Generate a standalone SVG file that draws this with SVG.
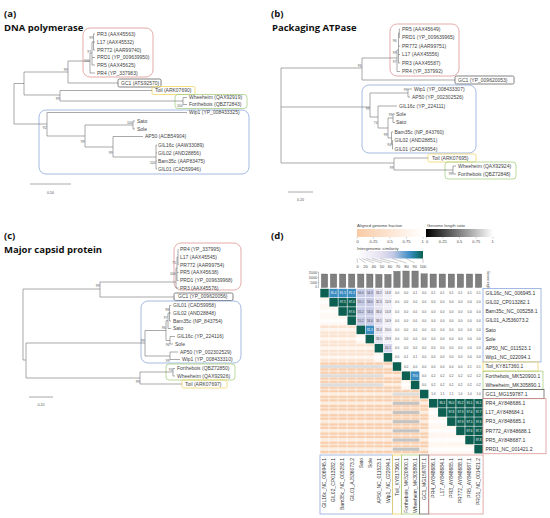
<svg xmlns="http://www.w3.org/2000/svg" width="550" height="518" viewBox="0 0 550 518">
<defs>
<style>
text{font-family:"Liberation Sans",Arial,sans-serif}
.hd{font-family:"Open Sans","Liberation Sans",sans-serif;font-weight:700;font-size:9.5px;fill:#111}
.tl{font-size:5px;fill:#444}
.bs{font-size:3.3px;fill:#555;text-anchor:end}
.br{fill:none;stroke:#707070;stroke-width:0.6}
.bx{fill:none;stroke-width:0.75}
.rd{stroke:#d8928e}.bl{stroke:#86a3db}.gn{stroke:#a3cd7c}.yl{stroke:#f0d35e}.gy{stroke:#5a5a5a}
.sc{font-size:3.6px;fill:#555;text-anchor:middle}
.vd{font-size:3px;fill:#444;text-anchor:middle}
.vw{font-size:3px;fill:#fff;text-anchor:middle}
.hl{font-size:5px;fill:#333}
.cl{font-size:5px;fill:#333;text-anchor:end}
.lg{font-size:4.2px;fill:#444}
.lt{font-size:4px;fill:#444;text-anchor:middle}
.ax{font-size:3px;fill:#444;text-anchor:end}
.T{fill:#0d5f52}.B{fill:#3a8cc1}.L{fill:#c9cce7}.P{fill:#e3e1f0}.P2{fill:#d9d8ed}.Q{fill:#f1eff7}
.bar{fill:#808080;stroke:#555;stroke-width:0.3}
.g1{fill:#c4c4c4}.g2{fill:#dedede}
</style>
<pattern id="lp" patternUnits="userSpaceOnUse" width="9.06" height="9.18"><rect width="9.06" height="9.18" fill="#fff"/><rect x="0.3" y="0.3" width="8.46" height="2.75" fill="#f8cfae"/><rect x="0.3" y="3.05" width="8.46" height="3.08" fill="#fdeee2"/><rect x="0.3" y="6.13" width="8.46" height="2.75" fill="#f8cfae"/></pattern>
<pattern id="ll" patternUnits="userSpaceOnUse" width="9.06" height="9.18"><rect width="9.06" height="9.18" fill="#fff"/><rect x="0.3" y="0.3" width="8.46" height="2.75" fill="#fbe3d0"/><rect x="0.3" y="3.05" width="8.46" height="3.08" fill="#fef6ef"/><rect x="0.3" y="6.13" width="8.46" height="2.75" fill="#fbe3d0"/></pattern>
<pattern id="lw" patternUnits="userSpaceOnUse" width="9.06" height="9.18"><rect width="9.06" height="9.18" fill="#fff"/><rect x="0.3" y="0.3" width="8.46" height="2.75" fill="#fff7f1"/><rect x="0.3" y="6.13" width="8.46" height="2.75" fill="#fff7f1"/></pattern>
<linearGradient id="gAF"><stop offset="0" stop-color="#f9cba6"/><stop offset="1" stop-color="#fff"/></linearGradient>
<linearGradient id="gLR"><stop offset="0" stop-color="#000"/><stop offset="1" stop-color="#fff"/></linearGradient>
<linearGradient id="gIS"><stop offset="0" stop-color="#fff"/><stop offset="0.35" stop-color="#e6e1f1"/><stop offset="0.55" stop-color="#c4c9e5"/><stop offset="0.8" stop-color="#3c8dc3"/><stop offset="0.9" stop-color="#1b7a8a"/><stop offset="1" stop-color="#0d5f52"/></linearGradient>
</defs>
<rect width="550" height="518" fill="#fff"/>

<!-- ===== Panel (a) ===== -->
<text class="hd" x="4" y="17">(a)</text>
<text class="hd" x="4" y="31">DNA polymerase</text>
<g id="a-boxes">
<rect class="bx rd" x="83" y="28" width="70" height="49" rx="7"/>
<rect class="bx gy" x="118" y="79" width="43" height="8" rx="1.5"/>
<rect class="bx yl" x="152" y="86.5" width="43" height="8" rx="1.5"/>
<rect class="bx gn" x="175" y="94.5" width="72" height="14" rx="3"/>
<rect class="bx bl" x="39" y="110" width="210" height="64" rx="7"/>
</g>
<g id="a-branches">
<path class="br" d="M14,83.5V124M14,83.5H24M24,72V95M24,72H68M68,61V83M68,61H90M68,83H118M90,53V73M90,73H95M90,53H92M92,42V65M92,65H95M92,57.5H95M92,42H93.5M93.5,34V50M93.5,34H95M93.5,42H95M93.5,50H95M24,95H60M60,90.5V101M60,90.5H152M60,101H183M183,97.5V104.5M183,97.5H187M183,104.5H187M14,124H47M47,112.5V136M47,112.5H187M47,136H85M85,125V147M85,125H133M133,121V129M133,121H135M133,129H135M85,147H113M113,136.5V157M113,136.5H143M113,157H156M156,145V169M156,145H157M156,153H157M156,161H157M156,169H157"/>
<path class="br" d="M30,184H71"/>
<text class="sc" x="50.5" y="194">0.50</text>
<text class="bs" x="93" y="39">99</text>
<text class="bs" x="91" y="52.5">97</text>
<text class="bs" x="89.5" y="61.5">100</text>
<text class="bs" x="67.5" y="70.5">99</text>
<text class="bs" x="59.5" y="99.5">99</text>
<text class="bs" x="182.5" y="107">100</text>
<text class="bs" x="46.5" y="128.5">92</text>
<text class="bs" x="132.5" y="124">100</text>
<text class="bs" x="84.5" y="143">99</text>
<text class="bs" x="112.5" y="154">99</text>
<text class="bs" x="155.5" y="164">100</text>
</g>
<g id="a-PR3"><text class="tl" x="97" y="35.7">PR3 (AAX45563)</text></g>
<g id="a-L17"><text class="tl" x="97" y="43.7">L17 (AAX45532)</text></g>
<g id="a-PR772"><text class="tl" x="97" y="51.7">PR772 (AAR99740)</text></g>
<g id="a-PRD1"><text class="tl" x="97" y="59.2">PRD1 (YP_009639950)</text></g>
<g id="a-PR5"><text class="tl" x="97" y="66.7">PR5 (AAX45625)</text></g>
<g id="a-PR4"><text class="tl" x="97" y="74.7">PR4 (YP_337983)</text></g>
<g id="a-GC1"><text class="tl" x="121" y="84.7">GC1 (ATS92570)</text></g>
<g id="a-Toil"><text class="tl" x="155" y="92.2">Toil (ARK07690)</text></g>
<g id="a-Wheeheim"><text class="tl" x="189" y="99.2">Wheeheim (QAX92919)</text></g>
<g id="a-Forthebois"><text class="tl" x="189" y="106.2">Forthebois (QBZ72843)</text></g>
<g id="a-Wip1"><text class="tl" x="189" y="114.2">Wip1 (YP_008433325)</text></g>
<g id="a-Sato"><text class="tl" x="137" y="122.7">Sato</text></g>
<g id="a-Sole"><text class="tl" x="137" y="130.7">Sole</text></g>
<g id="a-AP50"><text class="tl" x="145" y="138.2">AP50 (ACB54904)</text></g>
<g id="a-GIL16c"><text class="tl" x="158" y="146.7">GIL16c (AAW33089)</text></g>
<g id="a-GIL02"><text class="tl" x="158" y="154.7">GIL02 (AND28856)</text></g>
<g id="a-Bam35c"><text class="tl" x="158" y="162.7">Bam35c (AAP83475)</text></g>
<g id="a-GIL01"><text class="tl" x="158" y="170.7">GIL01 (CAD59946)</text></g>

<!-- ===== Panel (b) ===== -->
<text class="hd" x="271" y="17">(b)</text>
<text class="hd" x="272" y="31">Packaging ATPase</text>
<g id="b-boxes">
<rect class="bx rd" x="390" y="24" width="69" height="52" rx="7"/>
<rect class="bx gy" x="455" y="76" width="59" height="8" rx="1.5"/>
<rect class="bx bl" x="362" y="85" width="114" height="68" rx="7"/>
<rect class="bx yl" x="428" y="154" width="48" height="8" rx="1.5"/>
<rect class="bx gn" x="445" y="162" width="71" height="17" rx="3"/>
</g>
<g id="b-branches">
<path class="br" d="M281,68V163M281,68H362M362,58V80M362,58H397M362,80H455M397,50V71.5M397,71.5H400M397,50H398.5M398.5,33V63M398.5,63H400M398.5,54.5H400M398.5,46H400M398.5,33H399.3M399.3,29V37.5M399.3,29H400M399.3,37.5H400M281,107H370M370,93V117M370,93H408M408,89V97M408,89H412M408,97H410M370,117H378M378,106V128M378,106H397M378,128H388M388,118V138M388,118H393M393,114V122.5M393,114H395M393,122.5H395M388,138H391.5M391.5,132V144.5M391.5,132H393M391.5,144.5H392.5M392.5,140.5V149M392.5,140.5H393M392.5,149H393M281,163H394M394,158V170M394,158H428M394,170H453M453,166V174M453,166H456M453,174H456"/>
<path class="br" d="M288,192H313"/>
<text class="sc" x="300.5" y="201">0.20</text>
<text class="bs" x="396.5" y="42">96</text>
<text class="bs" x="396.5" y="53.5">99</text>
<text class="bs" x="396.5" y="62.5">97</text>
<text class="bs" x="361.5" y="67">96</text>
<text class="bs" x="407.5" y="91">99</text>
<text class="bs" x="369.5" y="109.5">99</text>
<text class="bs" x="377.5" y="124">74</text>
<text class="bs" x="392.5" y="116">99</text>
<text class="bs" x="387.5" y="136">99</text>
<text class="bs" x="391" y="146">94</text>
<text class="bs" x="393.5" y="169">99</text>
<text class="bs" x="452.5" y="175">99</text>
</g>
<g id="b-PR5"><text class="tl" x="402" y="30.7">PR5 (AAX45649)</text></g>
<g id="b-PRD1"><text class="tl" x="402" y="39.2">PRD1 (YP_009639965)</text></g>
<g id="b-PR772"><text class="tl" x="402" y="47.7">PR772 (AAR99751)</text></g>
<g id="b-L17"><text class="tl" x="402" y="56.2">L17 (AAX45556)</text></g>
<g id="b-PR3"><text class="tl" x="402" y="64.7">PR3 (AAX45587)</text></g>
<g id="b-PR4"><text class="tl" x="402" y="73.2">PR4 (YP_337992)</text></g>
<g id="b-GC1"><text class="tl" x="458" y="81.7">GC1 (YP_009620053)</text></g>
<g id="b-Wip1"><text class="tl" x="414" y="90.7">Wip1 (YP_008433307)</text></g>
<g id="b-AP50"><text class="tl" x="412" y="98.7">AP50 (YP_002302526)</text></g>
<g id="b-GIL16c"><text class="tl" x="399" y="107.7">GIL16c (YP_224111)</text></g>
<g id="b-Sole"><text class="tl" x="396" y="115.7">Sole</text></g>
<g id="b-Sato"><text class="tl" x="396" y="124.2">Sato</text></g>
<g id="b-Bam35c"><text class="tl" x="394.5" y="133.7">Bam35c (NP_843760)</text></g>
<g id="b-GIL02"><text class="tl" x="394.5" y="142.2">GIL02 (AND28851)</text></g>
<g id="b-GIL01"><text class="tl" x="394.5" y="150.7">GIL01 (CAD59954)</text></g>
<g id="b-Toil"><text class="tl" x="432" y="159.7">Toil (ARK07695)</text></g>
<g id="b-Wheeheim"><text class="tl" x="458" y="167.7">Wheeheim (QAX92924)</text></g>
<g id="b-Forthebois"><text class="tl" x="458" y="175.7">Forthebois (QBZ72848)</text></g>

<!-- ===== Panel (c) ===== -->
<text class="hd" x="4" y="238.5">(c)</text>
<text class="hd" x="4" y="252.5">Major capsid protein</text>
<g id="c-boxes">
<rect class="bx rd" x="174" y="243" width="67" height="47" rx="7"/>
<rect class="bx gy" x="174" y="293" width="59" height="7.5" rx="1.5"/>
<rect class="bx bl" x="141" y="301" width="100" height="62" rx="7"/>
<rect class="bx gn" x="166" y="364" width="69" height="16" rx="3"/>
<rect class="bx yl" x="182" y="380" width="45" height="8" rx="1.5"/>
</g>
<g id="c-branches">
<path class="br" d="M23,289V360M23,289H100M100,282V297M100,282H176M100,297H174M176,268V288M176,288H178.5M176,268H177M177,257V280.5M177,280.5H178.5M177,272.5H178.5M177,257H178M178,249.5V265M178,249.5H178.5M178,265H178.5M23,360H26M26,343V378M26,343H145M145,330.5V356M145,330.5H166M166,320.7V340.5M166,320.7H168M168,313V328.5M168,328.5H171M168,313H169.5M169.5,305.5V321M169.5,305.5H171M169.5,313H171M169.5,321H171M166,340.5H170M170,336.5V344M170,336.5H175M170,344H173M145,356H170M170,352V359.5M170,352H178M170,359.5H180M26,378H140M140,372V384M140,384H182M140,372H173M173,368.5V376M173,368.5H175M173,376H175"/>
<path class="br" d="M29,397H53"/>
<text class="sc" x="41" y="406">0.20</text>
<text class="bs" x="176" y="263.5">75</text>
<text class="bs" x="175.5" y="275">100</text>
<text class="bs" x="99.5" y="286.5">99</text>
<text class="bs" x="169" y="311">98</text>
<text class="bs" x="167.5" y="318.5">97</text>
<text class="bs" x="165.5" y="329">96</text>
<text class="bs" x="169.5" y="346">96</text>
<text class="bs" x="169.5" y="361.5">99</text>
<text class="bs" x="144.5" y="342">99</text>
<text class="bs" x="172.5" y="370.5">93</text>
<text class="bs" x="139.5" y="383">99</text>
</g>
<g id="c-PR4"><text class="tl" x="180" y="251.2">PR4 (YP_337995)</text></g>
<g id="c-L17"><text class="tl" x="180" y="258.7">L17 (AAX45545)</text></g>
<g id="c-PR772"><text class="tl" x="180" y="266.7">PR772 (AAR99754)</text></g>
<g id="c-PR5"><text class="tl" x="180" y="274.2">PR5 (AAX45638)</text></g>
<g id="c-PRD1"><text class="tl" x="180" y="282.2">PRD1 (YP_009639968)</text></g>
<g id="c-PR3"><text class="tl" x="180" y="289.7">PR3 (AAX45576)</text></g>
<g id="c-GC1"><text class="tl" x="178" y="298.4">GC1 (YP_009620056)</text></g>
<g id="c-GIL01"><text class="tl" x="173" y="307.2">GIL01 (CAD59958)</text></g>
<g id="c-GIL02"><text class="tl" x="173" y="314.7">GIL02 (AND28848)</text></g>
<g id="c-Bam35c"><text class="tl" x="173" y="322.7">Bam35c (NP_843754)</text></g>
<g id="c-Sato"><text class="tl" x="173" y="330.2">Sato</text></g>
<g id="c-GIL16c"><text class="tl" x="177" y="338.2">GIL16c (YP_224116)</text></g>
<g id="c-Sole"><text class="tl" x="175" y="345.7">Sole</text></g>
<g id="c-AP50"><text class="tl" x="180" y="353.7">AP50 (YP_002302529)</text></g>
<g id="c-Wip1"><text class="tl" x="182" y="361.2">Wip1 (YP_008433310)</text></g>
<g id="c-Forthebois"><text class="tl" x="177" y="370.2">Forthebois (QBZ72850)</text></g>
<g id="c-Wheeheim"><text class="tl" x="177" y="377.7">Wheeheim (QAX92926)</text></g>
<g id="c-Toil"><text class="tl" x="185" y="385.7">Toil (ARK07697)</text></g>

<!-- ===== Panel (d) ===== -->
<text class="hd" x="271" y="239">(d)</text>
<g id="d-legend">
<text class="lg" x="357" y="227">Aligned genome fraction</text>
<rect x="357" y="229" width="66" height="8" fill="url(#gAF)"/>
<path d="M357,237V238.5M373.5,237V238.5M390,237V238.5M406.5,237V238.5M423,237V238.5" stroke="#555" stroke-width="0.3"/>
<text class="lt" x="357.5" y="242.5">0</text><text class="lt" x="373.5" y="242.5">0.25</text><text class="lt" x="390" y="242.5">0.5</text><text class="lt" x="406.5" y="242.5">0.75</text><text class="lt" x="422.5" y="242.5">1</text>
<text class="lg" x="427" y="227">Genome length ratio</text>
<rect x="426" y="229" width="67" height="8" fill="url(#gLR)"/>
<path d="M426,237V238.5M442.75,237V238.5M459.5,237V238.5M476.25,237V238.5M493,237V238.5" stroke="#555" stroke-width="0.3"/>
<text class="lt" x="427" y="242.5">0</text><text class="lt" x="442.75" y="242.5">0.25</text><text class="lt" x="459.5" y="242.5">0.5</text><text class="lt" x="476.25" y="242.5">0.75</text><text class="lt" x="492.5" y="242.5">1</text>
<text class="lg" x="357" y="249.5">Intergenomic similarity</text>
<rect x="357" y="251" width="66" height="7.5" fill="url(#gIS)"/>
<path d="M357,258.5L357.5,263M359,258.5L365.5,263M362,258.5L373.8,263M366,258.5L382,263M372,258.5L390,263M380,258.5L398,263M392,258.5L406.5,263M406,258.5L414.8,263M423,258.5L423,263" stroke="#555" stroke-width="0.3" fill="none"/>
<text class="lt" x="357.5" y="267.5">0</text><text class="lt" x="365.5" y="267.5">20</text><text class="lt" x="373.8" y="267.5">40</text><text class="lt" x="382" y="267.5">50</text><text class="lt" x="390" y="267.5">60</text><text class="lt" x="398" y="267.5">70</text><text class="lt" x="406.5" y="267.5">80</text><text class="lt" x="414.8" y="267.5">90</text><text class="lt" x="423" y="267.5">100</text>
</g>
<g id="d-bars">
<path d="M318.5,271.5V287.5M317.6,272.5H318.5M317.6,277.5H318.5M317.6,282.5H318.5M317.6,287.5H318.5" stroke="#444" stroke-width="0.3" fill="none"/>
<text class="ax" x="317" y="273.5">15000</text><text class="ax" x="317" y="278.5">10000</text><text class="ax" x="317" y="283.5">5000</text><text class="ax" x="317" y="288.3">0</text>
<rect class="bar" x="321.3" y="274" width="6.4" height="13.5"/>
<rect class="bar" x="330.36" y="274" width="6.4" height="13.5"/>
<rect class="bar" x="339.42" y="274" width="6.4" height="13.5"/>
<rect class="bar" x="348.48" y="274" width="6.4" height="13.5"/>
<rect class="bar" x="357.54" y="274" width="6.4" height="13.5"/>
<rect class="bar" x="366.6" y="274" width="6.4" height="13.5"/>
<rect class="bar" x="375.66" y="274.3" width="6.4" height="13.2"/>
<rect class="bar" x="384.72" y="274.3" width="6.4" height="13.2"/>
<rect class="bar" x="393.78" y="271.3" width="6.4" height="16.2"/>
<rect class="bar" x="402.84" y="271" width="6.4" height="16.5"/>
<rect class="bar" x="411.9" y="271" width="6.4" height="16.5"/>
<rect class="bar" x="420.96" y="273.8" width="6.4" height="13.7"/>
<rect class="bar" x="430.02" y="274" width="6.4" height="13.5"/>
<rect class="bar" x="439.08" y="274" width="6.4" height="13.5"/>
<rect class="bar" x="448.14" y="274" width="6.4" height="13.5"/>
<rect class="bar" x="457.2" y="274" width="6.4" height="13.5"/>
<rect class="bar" x="466.26" y="274" width="6.4" height="13.5"/>
<rect class="bar" x="475.32" y="274" width="6.4" height="13.5"/>
<text transform="translate(486.5,271) rotate(90)" font-size="2.6" fill="#444">Genome length</text>
</g>
<g id="d-cells" transform="translate(320,288.5)">
<rect x="0" y="9.18" width="9.06" height="9.18" fill="url(#lp)"/>
<rect x="0" y="18.36" width="18.12" height="9.18" fill="url(#lp)"/>
<rect x="0" y="27.54" width="27.18" height="9.18" fill="url(#lp)"/>
<rect x="0" y="36.72" width="36.24" height="9.18" fill="url(#lp)"/>
<rect x="0" y="45.9" width="45.3" height="9.18" fill="url(#lp)"/>
<rect x="0" y="55.08" width="54.36" height="9.18" fill="url(#lp)"/>
<rect x="0" y="64.26" width="63.42" height="9.18" fill="url(#lp)"/>
<rect x="0" y="73.44" width="72.48" height="9.18" fill="url(#lp)"/>
<rect x="0" y="82.62" width="81.54" height="9.18" fill="url(#lp)"/>
<rect x="0" y="91.8" width="90.6" height="9.18" fill="url(#lp)"/>
<rect x="0" y="100.98" width="99.66" height="9.18" fill="url(#lp)"/>
<rect x="0" y="110.16" width="108.72" height="9.18" fill="url(#lp)"/>
<rect x="0" y="119.34" width="117.78" height="9.18" fill="url(#lp)"/>
<rect x="0" y="128.52" width="126.84" height="9.18" fill="url(#lp)"/>
<rect x="0" y="137.7" width="135.9" height="9.18" fill="url(#lp)"/>
<rect x="0" y="146.88" width="144.96" height="9.18" fill="url(#lp)"/>
<rect x="0" y="156.06" width="154.02" height="9.18" fill="url(#lp)"/>
<rect x="0" y="9.18" width="9.06" height="9.18" fill="url(#lw)"/>
<rect x="0" y="18.36" width="18.12" height="9.18" fill="url(#lw)"/>
<rect x="0" y="27.54" width="27.18" height="9.18" fill="url(#lw)"/>
<rect x="0" y="36.72" width="36.24" height="36.72" fill="url(#ll)"/>
<rect x="36.24" y="45.9" width="9.06" height="9.18" fill="url(#lw)"/>
<rect x="36.24" y="55.08" width="18.12" height="18.36" fill="url(#ll)"/>
<rect x="54.36" y="64.26" width="9.06" height="9.18" fill="url(#lw)"/>
<rect x="81.54" y="91.8" width="9.06" height="9.18" fill="url(#lw)"/>
<rect x="108.72" y="119.34" width="9.06" height="9.18" fill="url(#lw)"/>
<rect x="108.72" y="128.52" width="18.12" height="9.18" fill="url(#lw)"/>
<rect x="108.72" y="137.7" width="27.18" height="9.18" fill="url(#lw)"/>
<rect x="108.72" y="146.88" width="36.24" height="9.18" fill="url(#lw)"/>
<rect x="108.72" y="156.06" width="45.3" height="9.18" fill="url(#lw)"/>
<rect class="g2" x="0.3" y="76.54" width="62.82" height="3.08"/>
<rect class="g2" x="0.3" y="85.72" width="62.82" height="3.08"/>
<rect class="g2" x="0.3" y="94.9" width="62.82" height="3.08"/>
<rect class="g2" x="72.78" y="104.08" width="26.58" height="3.08"/>
<rect class="g1" x="72.78" y="113.26" width="26.58" height="3.08"/>
<rect class="g1" x="72.78" y="122.44" width="26.58" height="3.08"/>
<rect class="g1" x="72.78" y="131.62" width="26.58" height="3.08"/>
<rect class="g1" x="72.78" y="140.8" width="26.58" height="3.08"/>
<rect class="g1" x="72.78" y="149.98" width="26.58" height="3.08"/>
<rect class="g1" x="72.78" y="159.16" width="26.58" height="3.08"/>
<rect class="T" x="0.3" y="0.3" width="8.46" height="8.58"/>
<rect class="T" x="9.36" y="9.48" width="8.46" height="8.58"/>
<rect class="T" x="18.42" y="18.66" width="8.46" height="8.58"/>
<rect class="T" x="27.48" y="27.84" width="8.46" height="8.58"/>
<rect class="T" x="36.54" y="37.02" width="8.46" height="8.58"/>
<rect class="T" x="45.6" y="46.2" width="8.46" height="8.58"/>
<rect class="T" x="54.66" y="55.38" width="8.46" height="8.58"/>
<rect class="T" x="63.72" y="64.56" width="8.46" height="8.58"/>
<rect class="T" x="72.78" y="73.74" width="8.46" height="8.58"/>
<rect class="T" x="81.84" y="82.92" width="8.46" height="8.58"/>
<rect class="T" x="90.9" y="92.1" width="8.46" height="8.58"/>
<rect class="T" x="99.96" y="101.28" width="8.46" height="8.58"/>
<rect class="T" x="109.02" y="110.46" width="8.46" height="8.58"/>
<rect class="T" x="118.08" y="119.64" width="8.46" height="8.58"/>
<rect class="T" x="127.14" y="128.82" width="8.46" height="8.58"/>
<rect class="T" x="136.2" y="138" width="8.46" height="8.58"/>
<rect class="T" x="145.26" y="147.18" width="8.46" height="8.58"/>
<rect class="T" x="154.32" y="156.36" width="8.46" height="8.58"/>
<rect class="B" x="9.36" y="0.3" width="8.46" height="8.58"/>
<rect class="B" x="18.42" y="0.3" width="8.46" height="8.58"/>
<rect class="B" x="27.48" y="0.3" width="8.46" height="8.58"/>
<rect class="L" x="36.54" y="0.3" width="8.46" height="8.58"/>
<rect class="L" x="45.6" y="0.3" width="8.46" height="8.58"/>
<rect class="P" x="54.66" y="0.3" width="8.46" height="8.58"/>
<rect class="Q" x="63.72" y="0.3" width="8.46" height="8.58"/>
<rect class="T" x="18.42" y="9.48" width="8.46" height="8.58"/>
<rect class="T" x="27.48" y="9.48" width="8.46" height="8.58"/>
<rect class="L" x="36.54" y="9.48" width="8.46" height="8.58"/>
<rect class="L" x="45.6" y="9.48" width="8.46" height="8.58"/>
<rect class="P" x="54.66" y="9.48" width="8.46" height="8.58"/>
<rect class="Q" x="63.72" y="9.48" width="8.46" height="8.58"/>
<rect class="T" x="27.48" y="18.66" width="8.46" height="8.58"/>
<rect class="L" x="36.54" y="18.66" width="8.46" height="8.58"/>
<rect class="L" x="45.6" y="18.66" width="8.46" height="8.58"/>
<rect class="P" x="54.66" y="18.66" width="8.46" height="8.58"/>
<rect class="Q" x="63.72" y="18.66" width="8.46" height="8.58"/>
<rect class="L" x="36.54" y="27.84" width="8.46" height="8.58"/>
<rect class="L" x="45.6" y="27.84" width="8.46" height="8.58"/>
<rect class="P" x="54.66" y="27.84" width="8.46" height="8.58"/>
<rect class="Q" x="63.72" y="27.84" width="8.46" height="8.58"/>
<rect class="B" x="45.6" y="37.02" width="8.46" height="8.58"/>
<rect class="P" x="54.66" y="37.02" width="8.46" height="8.58"/>
<rect class="Q" x="63.72" y="37.02" width="8.46" height="8.58"/>
<rect class="P" x="54.66" y="46.2" width="8.46" height="8.58"/>
<rect class="Q" x="63.72" y="46.2" width="8.46" height="8.58"/>
<rect class="P2" x="63.72" y="55.38" width="8.46" height="8.58"/>
<rect class="B" x="90.9" y="82.92" width="8.46" height="8.58"/>
<rect class="T" x="118.08" y="110.46" width="8.46" height="8.58"/>
<rect class="T" x="127.14" y="110.46" width="8.46" height="8.58"/>
<rect class="T" x="136.2" y="110.46" width="8.46" height="8.58"/>
<rect class="T" x="145.26" y="110.46" width="8.46" height="8.58"/>
<rect class="T" x="154.32" y="110.46" width="8.46" height="8.58"/>
<rect class="T" x="127.14" y="119.64" width="8.46" height="8.58"/>
<rect class="T" x="136.2" y="119.64" width="8.46" height="8.58"/>
<rect class="T" x="145.26" y="119.64" width="8.46" height="8.58"/>
<rect class="T" x="154.32" y="119.64" width="8.46" height="8.58"/>
<rect class="T" x="136.2" y="128.82" width="8.46" height="8.58"/>
<rect class="T" x="145.26" y="128.82" width="8.46" height="8.58"/>
<rect class="T" x="154.32" y="128.82" width="8.46" height="8.58"/>
<rect class="T" x="145.26" y="138" width="8.46" height="8.58"/>
<rect class="T" x="154.32" y="138" width="8.46" height="8.58"/>
<rect class="T" x="154.32" y="147.18" width="8.46" height="8.58"/>
<text class="vw" y="5.65"><tspan x="13.59">81.4</tspan><tspan x="22.65">81.3</tspan><tspan x="31.71">81.3</tspan></text>
<text class="vd" y="5.65"><tspan x="40.77">56.6</tspan><tspan x="49.83">54.3</tspan><tspan x="58.89">33.2</tspan><tspan x="67.95">14.8</tspan><tspan x="77.01">0.0</tspan><tspan x="86.07">0.0</tspan><tspan x="95.13">0.1</tspan><tspan x="104.19">0.0</tspan><tspan x="113.25">0.1</tspan><tspan x="122.31">0.1</tspan><tspan x="131.37">0.1</tspan><tspan x="140.43">0.1</tspan><tspan x="149.49">0.1</tspan><tspan x="158.55">0.1</tspan></text>
<text class="vw" y="14.83"><tspan x="22.65">97.5</tspan><tspan x="31.71">97.4</tspan></text>
<text class="vd" y="14.83"><tspan x="40.77">55.1</tspan><tspan x="49.83">53.0</tspan><tspan x="58.89">32.3</tspan><tspan x="67.95">14.9</tspan><tspan x="77.01">0.0</tspan><tspan x="86.07">0.0</tspan><tspan x="95.13">0.0</tspan><tspan x="104.19">0.0</tspan><tspan x="113.25">0.0</tspan><tspan x="122.31">0.0</tspan><tspan x="131.37">0.0</tspan><tspan x="140.43">0.0</tspan><tspan x="149.49">0.0</tspan><tspan x="158.55">0.0</tspan></text>
<text class="vw" y="24.01"><tspan x="31.71">97.6</tspan></text>
<text class="vd" y="24.01"><tspan x="40.77">55.2</tspan><tspan x="49.83">53.4</tspan><tspan x="58.89">33.0</tspan><tspan x="67.95">14.8</tspan><tspan x="77.01">0.0</tspan><tspan x="86.07">0.0</tspan><tspan x="95.13">0.0</tspan><tspan x="104.19">0.0</tspan><tspan x="113.25">0.0</tspan><tspan x="122.31">0.0</tspan><tspan x="131.37">0.0</tspan><tspan x="140.43">0.0</tspan><tspan x="149.49">0.0</tspan><tspan x="158.55">0.0</tspan></text>
<text class="vd" y="33.19"><tspan x="40.77">55.2</tspan><tspan x="49.83">53.4</tspan><tspan x="58.89">33.1</tspan><tspan x="67.95">14.9</tspan><tspan x="77.01">0.0</tspan><tspan x="86.07">0.0</tspan><tspan x="95.13">0.0</tspan><tspan x="104.19">0.0</tspan><tspan x="113.25">0.0</tspan><tspan x="122.31">0.0</tspan><tspan x="131.37">0.0</tspan><tspan x="140.43">0.0</tspan><tspan x="149.49">0.0</tspan><tspan x="158.55">0.0</tspan></text>
<text class="vw" y="42.37"><tspan x="49.83">81.3</tspan></text>
<text class="vd" y="42.37"><tspan x="58.89">33.4</tspan><tspan x="67.95">20.0</tspan><tspan x="77.01">0.0</tspan><tspan x="86.07">0.0</tspan><tspan x="95.13">0.0</tspan><tspan x="104.19">0.0</tspan><tspan x="113.25">0.0</tspan><tspan x="122.31">0.0</tspan><tspan x="131.37">0.0</tspan><tspan x="140.43">0.0</tspan><tspan x="149.49">0.0</tspan><tspan x="158.55">0.0</tspan></text>
<text class="vd" y="51.55"><tspan x="58.89">33.5</tspan><tspan x="67.95">19.9</tspan><tspan x="77.01">0.0</tspan><tspan x="86.07">0.0</tspan><tspan x="95.13">0.0</tspan><tspan x="104.19">0.0</tspan><tspan x="113.25">0.0</tspan><tspan x="122.31">0.0</tspan><tspan x="131.37">0.0</tspan><tspan x="140.43">0.0</tspan><tspan x="149.49">0.0</tspan><tspan x="158.55">0.0</tspan></text>
<text class="vd" y="60.73"><tspan x="67.95">40.1</tspan><tspan x="77.01">0.0</tspan><tspan x="86.07">0.0</tspan><tspan x="95.13">0.0</tspan><tspan x="104.19">0.0</tspan><tspan x="113.25">0.0</tspan><tspan x="122.31">0.0</tspan><tspan x="131.37">0.0</tspan><tspan x="140.43">0.0</tspan><tspan x="149.49">0.0</tspan><tspan x="158.55">0.0</tspan></text>
<text class="vd" y="69.91"><tspan x="77.01">0.0</tspan><tspan x="86.07">0.1</tspan><tspan x="95.13">0.1</tspan><tspan x="104.19">0.0</tspan><tspan x="113.25">0.0</tspan><tspan x="122.31">0.0</tspan><tspan x="131.37">0.0</tspan><tspan x="140.43">0.0</tspan><tspan x="149.49">0.0</tspan><tspan x="158.55">0.0</tspan></text>
<text class="vd" y="79.09"><tspan x="86.07">0.0</tspan><tspan x="95.13">0.0</tspan><tspan x="104.19">0.0</tspan><tspan x="113.25">0.0</tspan><tspan x="122.31">0.0</tspan><tspan x="131.37">0.0</tspan><tspan x="140.43">0.0</tspan><tspan x="149.49">0.1</tspan><tspan x="158.55">0.1</tspan></text>
<text class="vw" y="88.27"><tspan x="95.13">79.6</tspan></text>
<text class="vd" y="88.27"><tspan x="104.19">0.0</tspan><tspan x="113.25">0.2</tspan><tspan x="122.31">0.2</tspan><tspan x="131.37">0.2</tspan><tspan x="140.43">0.2</tspan><tspan x="149.49">0.2</tspan><tspan x="158.55">0.2</tspan></text>
<text class="vd" y="97.45"><tspan x="104.19">0.0</tspan><tspan x="113.25">0.2</tspan><tspan x="122.31">0.2</tspan><tspan x="131.37">0.2</tspan><tspan x="140.43">0.2</tspan><tspan x="149.49">0.2</tspan><tspan x="158.55">0.2</tspan></text>
<text class="vd" y="106.63"><tspan x="113.25">1.0</tspan><tspan x="122.31">1.1</tspan><tspan x="131.37">1.1</tspan><tspan x="140.43">1.0</tspan><tspan x="149.49">1.0</tspan><tspan x="158.55">1.0</tspan></text>
<text class="vw" y="115.81"><tspan x="122.31">95.1</tspan><tspan x="131.37">95.0</tspan><tspan x="140.43">95.2</tspan><tspan x="149.49">95.1</tspan><tspan x="158.55">95.1</tspan></text>
<text class="vw" y="124.99"><tspan x="131.37">97.8</tspan><tspan x="140.43">97.9</tspan><tspan x="149.49">97.6</tspan><tspan x="158.55">97.7</tspan></text>
<text class="vw" y="134.17"><tspan x="140.43">97.9</tspan><tspan x="149.49">97.5</tspan><tspan x="158.55">97.6</tspan></text>
<text class="vw" y="143.35"><tspan x="149.49">97.6</tspan><tspan x="158.55">97.7</tspan></text>
<text class="vw" y="152.53"><tspan x="158.55">97.8</tspan></text>
</g>
<g id="d-rowboxes">
<rect class="bx bl" x="483" y="288.5" width="58" height="73.44"/>
<rect class="bx yl" x="483" y="361.94" width="55" height="9.18"/>
<rect class="bx gn" x="483" y="371.12" width="60" height="18.36"/>
<rect class="bx gy" x="483" y="389.48" width="61" height="9.18"/>
<rect class="bx rd" x="483" y="398.66" width="63" height="55.08"/>
</g>
<g id="d-rowlabels">
<text class="hl" x="485.5" y="294.8">GIL16c_NC_006945.1</text>
<text class="hl" x="485.5" y="304">GIL02_CP013282.1</text>
<text class="hl" x="485.5" y="313.2">Bam35c_NC_005258.1</text>
<text class="hl" x="485.5" y="322.4">GIL01_AJ536073.2</text>
<text class="hl" x="485.5" y="331.6">Sato</text>
<text class="hl" x="485.5" y="340.7">Sole</text>
<text class="hl" x="485.5" y="349.9">AP50_NC_011523.1</text>
<text class="hl" x="485.5" y="359.1">Wip1_NC_022094.1</text>
<text class="hl" x="485.5" y="368.3">Toil_KY817360.1</text>
<text class="hl" x="485.5" y="377.5">Forthebois_MK520900.1</text>
<text class="hl" x="485.5" y="386.6">Wheeheim_MK305890.1</text>
<text class="hl" x="485.5" y="395.8">GC1_MG159787.1</text>
<text class="hl" x="485.5" y="405">PR4_AY848686.1</text>
<text class="hl" x="485.5" y="414.2">L17_AY848684.1</text>
<text class="hl" x="485.5" y="423.4">PR3_AY848685.1</text>
<text class="hl" x="485.5" y="432.5">PR772_AY848688.1</text>
<text class="hl" x="485.5" y="441.7">PR5_AY848687.1</text>
<text class="hl" x="485.5" y="450.9">PRD1_NC_001421.2</text>
</g>
<g id="d-colboxes">
<rect class="bx bl" x="320" y="455" width="72.48" height="59"/>
<rect class="bx yl" x="392.48" y="455" width="9.06" height="59"/>
<rect class="bx gn" x="401.54" y="455" width="18.12" height="59"/>
<rect class="bx gy" x="419.66" y="455" width="9.06" height="59"/>
<rect class="bx rd" x="428.72" y="455" width="54.36" height="59"/>
</g>
<g id="d-collabels">
<text class="cl" transform="translate(326.3,458) rotate(-90)">GIL16c_NC_006945.1</text>
<text class="cl" transform="translate(335.3,458) rotate(-90)">GIL02_CP013282.1</text>
<text class="cl" transform="translate(344.4,458) rotate(-90)">Bam35c_NC_005258.1</text>
<text class="cl" transform="translate(353.5,458) rotate(-90)">GIL01_AJ536073.2</text>
<text class="cl" transform="translate(362.5,458) rotate(-90)">Sato</text>
<text class="cl" transform="translate(371.6,458) rotate(-90)">Sole</text>
<text class="cl" transform="translate(380.6,458) rotate(-90)">AP50_NC_011523.1</text>
<text class="cl" transform="translate(389.7,458) rotate(-90)">Wip1_NC_022094.1</text>
<text class="cl" transform="translate(398.8,458) rotate(-90)">Toil_KY817360.1</text>
<text class="cl" transform="translate(407.8,458) rotate(-90)">Forthebois_MK520900.1</text>
<text class="cl" transform="translate(416.9,458) rotate(-90)">Wheeheim_MK305890.1</text>
<text class="cl" transform="translate(425.9,458) rotate(-90)">GC1_MG159787.1</text>
<text class="cl" transform="translate(435,458) rotate(-90)">PR4_AY848686.1</text>
<text class="cl" transform="translate(444.1,458) rotate(-90)">L17_AY848684.1</text>
<text class="cl" transform="translate(453.1,458) rotate(-90)">PR3_AY848685.1</text>
<text class="cl" transform="translate(462.2,458) rotate(-90)">PR772_AY848688.1</text>
<text class="cl" transform="translate(471.2,458) rotate(-90)">PR5_AY848687.1</text>
<text class="cl" transform="translate(480.3,458) rotate(-90)">PRD1_NC_001421.2</text>
</g>
</svg>
